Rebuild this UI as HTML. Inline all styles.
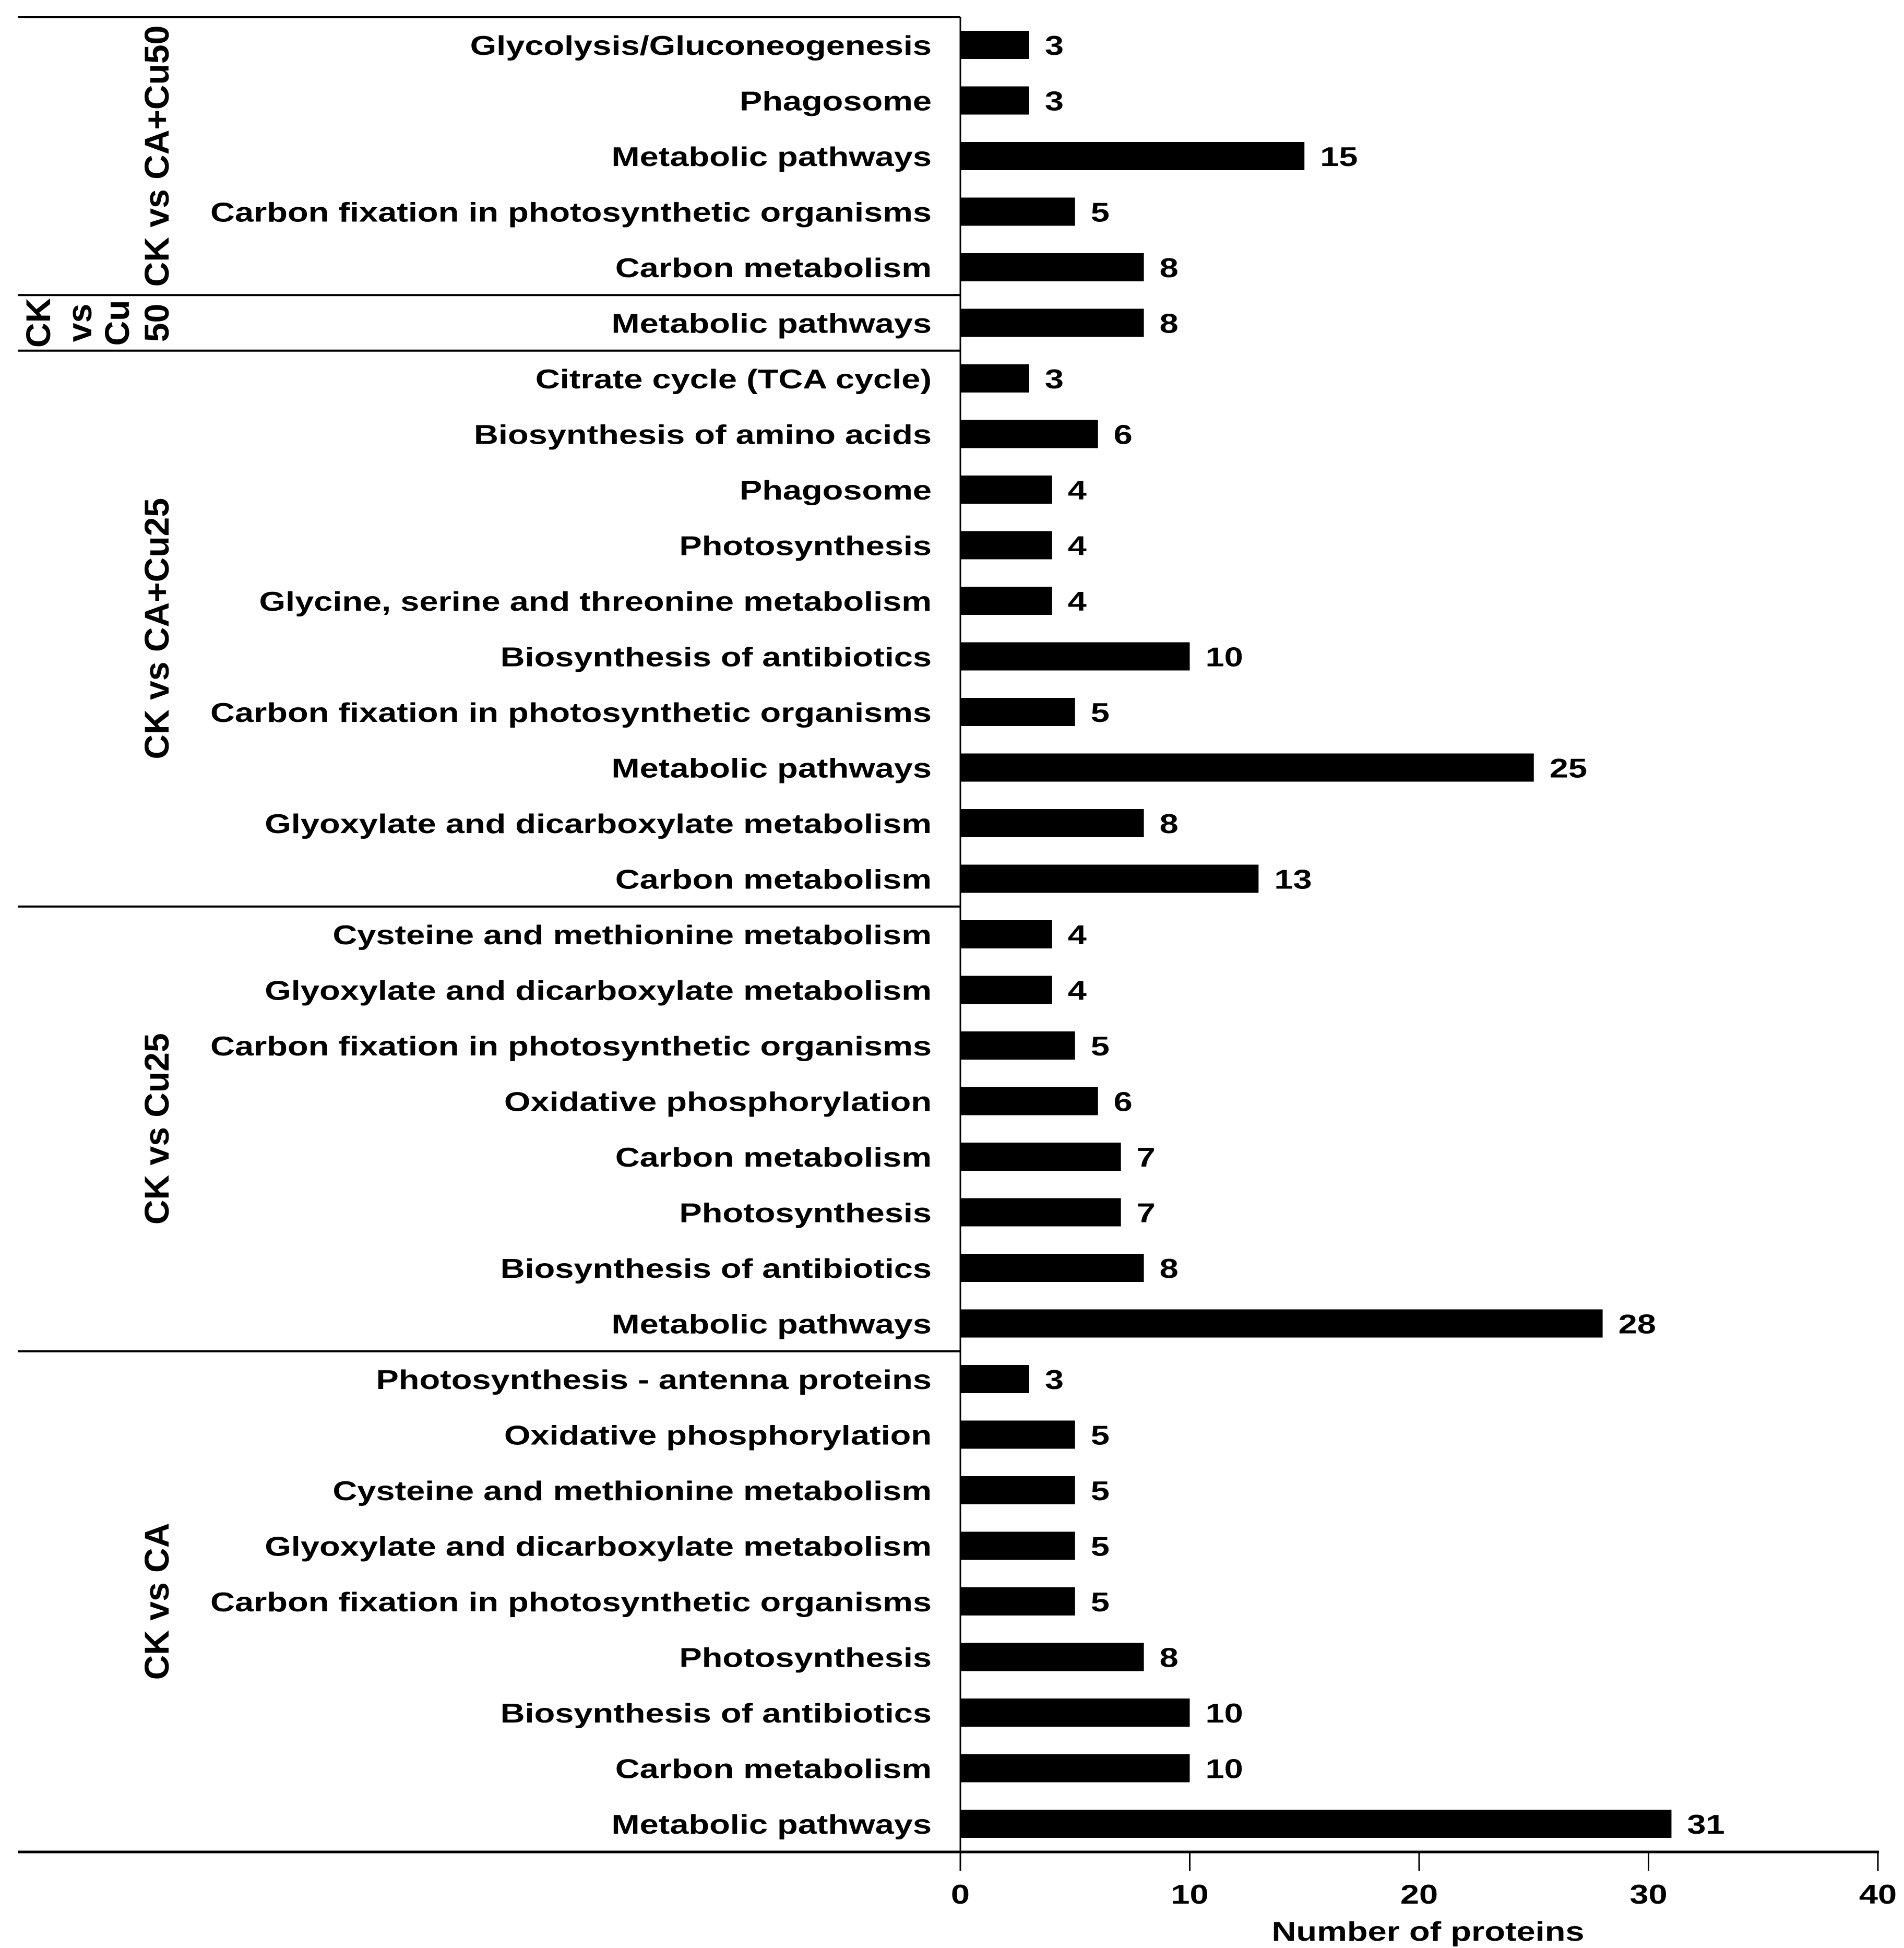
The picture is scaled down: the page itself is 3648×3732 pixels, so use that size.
<!DOCTYPE html>
<html><head><meta charset="utf-8"><style>
html,body{margin:0;padding:0;background:#fff;}
svg{display:block;}
text{font-family:"Liberation Sans",Arial,sans-serif;font-weight:bold;fill:#000;}
</style></head><body>
<svg id="chart" width="3648" height="3732" viewBox="0 0 3648 3732" xmlns="http://www.w3.org/2000/svg"></svg>
<script>
const categories = ["Glycolysis/Gluconeogenesis","Phagosome","Metabolic pathways","Carbon fixation in photosynthetic organisms","Carbon metabolism",
"Metabolic pathways",
"Citrate cycle (TCA cycle)","Biosynthesis of amino acids","Phagosome","Photosynthesis","Glycine, serine and threonine metabolism","Biosynthesis of antibiotics","Carbon fixation in photosynthetic organisms","Metabolic pathways","Glyoxylate and dicarboxylate metabolism","Carbon metabolism",
"Cysteine and methionine metabolism","Glyoxylate and dicarboxylate metabolism","Carbon fixation in photosynthetic organisms","Oxidative phosphorylation","Carbon metabolism","Photosynthesis","Biosynthesis of antibiotics","Metabolic pathways",
"Photosynthesis - antenna proteins","Oxidative phosphorylation","Cysteine and methionine metabolism","Glyoxylate and dicarboxylate metabolism","Carbon fixation in photosynthetic organisms","Photosynthesis","Biosynthesis of antibiotics","Carbon metabolism","Metabolic pathways"];
const values = [3,3,15,5,8, 8, 3,6,4,4,4,10,5,25,8,13, 4,4,5,6,7,7,8,28, 3,5,5,5,5,8,10,10,31];
const groupNames = [["CK vs CA+Cu50"],["CK","vs","Cu","50"],["CK vs CA+Cu25"],["CK vs Cu25"],["CK vs CA"]];
const groupSizes = [5,1,10,8,9];
const xTicks = [0,10,20,30,40];

const svg = document.getElementById('chart');
const NS = 'http://www.w3.org/2000/svg';
const X0 = 1840, X40 = 3598, LEFT = 34, TOP = 33, BOTTOM = 3548;
const ROW0 = 86, PITCH = 106.5, BARH = 54;
const xs = v => X0 + (X40 - X0) * v / 40;
const ys = i => ROW0 + i * PITCH;
function mk(tag, attrs){ const e = document.createElementNS(NS, tag); for (const k in attrs) e.setAttribute(k, attrs[k]); svg.appendChild(e); return e; }

// top line
let e = mk('line',{x1:LEFT,x2:X0,y1:TOP,y2:TOP,stroke:'#000','stroke-width':4});



// labels with horizontal stretch factor
const FS = 52;
const ref = mk('text',{x:0,y:-100,'font-size':FS});
ref.textContent = "Carbon fixation in photosynthetic organisms";
const k = 1382 / ref.getComputedTextLength();
svg.removeChild(ref);

categories.forEach((c,i)=>{
  const y = ys(i);
  const b = mk('rect',{x:X0,y:y-BARH/2,width:xs(values[i])-X0,height:BARH,fill:'#000'});
  
  
  const t = mk('text',{x:1785,y:y+19,'font-size':FS,'text-anchor':'end'});
  t.textContent = c;
  
  
  t.setAttribute('textLength', t.getComputedTextLength()*k);
  t.setAttribute('lengthAdjust','spacingAndGlyphs');
  const v = mk('text',{x:xs(values[i])+30,y:y+19,'font-size':FS});
  v.textContent = values[i];
  
  
  v.setAttribute('textLength', v.getComputedTextLength()*k);
  v.setAttribute('lengthAdjust','spacingAndGlyphs');
});

// groups
let start = 0;
groupSizes.forEach((n,g)=>{
  const end = start + n;
  const cy = (ys(start) + ys(end-1)) / 2;
  if (g > 0){
    const sy = ys(start) - PITCH/2;
    const l = mk('line',{x1:LEFT,x2:X0,y1:sy,y2:sy,stroke:'#000','stroke-width':4});
    
    
  }
  const lines = groupNames[g];
  const cols = lines.length === 1 ? [299] : [72,151,223,299];
  lines.forEach((s,j)=>{
    const x = cols[j] + 24;
    const t = mk('text',{x:x,y:cy,'font-size':66,'text-anchor':'middle',transform:`rotate(-90 ${x} ${cy})`});
    t.textContent = s;
    
    
  });
  start = end;
});

// y axis
e = mk('line',{x1:X0,x2:X0,y1:TOP,y2:BOTTOM,stroke:'#000','stroke-width':3});


// bottom axis
e = mk('line',{x1:LEFT,x2:X40+2,y1:BOTTOM,y2:BOTTOM,stroke:'#000','stroke-width':5});


xTicks.forEach(t=>{
  const x = xs(t);
  const tk = mk('line',{x1:x,x2:x,y1:BOTTOM,y2:BOTTOM+36,stroke:'#000','stroke-width':3});
  
  
  const lb = mk('text',{x:x,y:3647,'font-size':FS,'text-anchor':'middle'});
  lb.textContent = t;
  
  
  lb.setAttribute('textLength', lb.getComputedTextLength()*k);
  lb.setAttribute('lengthAdjust','spacingAndGlyphs');
});
const at = mk('text',{x:2736,y:3718,'font-size':FS,'text-anchor':'middle'});
at.textContent = 'Number of proteins';


at.setAttribute('textLength', at.getComputedTextLength()*k);
at.setAttribute('lengthAdjust','spacingAndGlyphs');
</script>
</body></html>
